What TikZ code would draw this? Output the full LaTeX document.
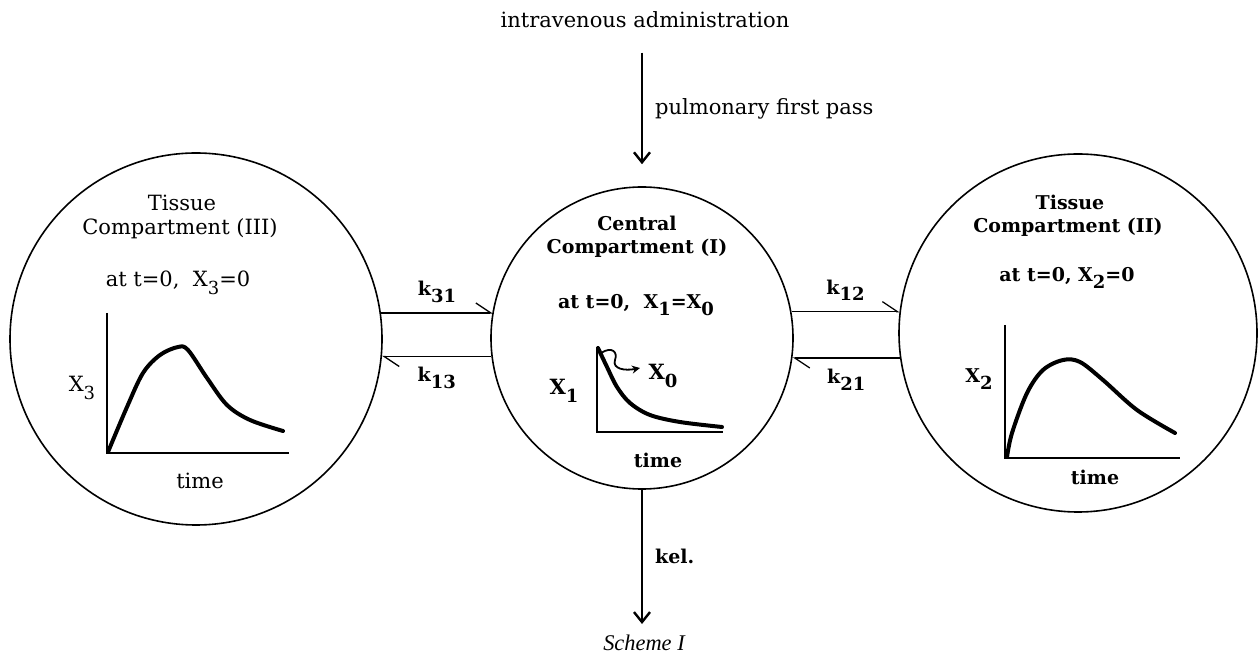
\documentclass[tikz,border=0pt]{standalone}
\usepackage{fontspec}
\setmainfont{DejaVu Serif}
\newfontfamily\capfont{Liberation Serif}
\usetikzlibrary{arrows.meta}
\newcommand{\lowsub}[1]{\raisebox{-0.7ex}{\fontsize{9}{9}\selectfont #1}}
\tikzset{
  comp/.style={circle, draw, line width=0.8pt, inner sep=0pt},
  txt/.style={font=\fontsize{10.5}{12}\selectfont, inner sep=1pt},
  btxt/.style={font=\fontsize{9.5}{11}\selectfont\bfseries, inner sep=1pt},
  axis/.style={line width=0.7pt},
  curve/.style={line width=2pt, line cap=round, line join=round},
  harp/.style={line width=0.65pt, -{Straight Barb[left,length=7.5pt,width=10pt]}},
  flow/.style={line width=1.2pt, -{Straight Barb[length=5pt,width=8pt]}}
}
\begin{document}
\begin{tikzpicture}[x=0.5pt,y=-0.5pt]
\useasboundingbox (0,0) rectangle (1259,657);
% compartments
\node[comp, minimum size=186pt] (L) at (196,339) {};
\node[comp, minimum size=151pt] (C) at (642,338) {};
\node[comp, minimum size=179pt] (R) at (1078,333) {};
% top / bottom
\node[txt] (iv) at (645,20) {intravenous administration};
\draw[flow, shorten <=11pt, shorten >=11pt] (iv.south -| C.north) -- node[right=5pt, txt] {pulmonary first pass} (C.north);
\coordinate (elim) at (642,624);
\draw[flow] (C.south) -- node[right=5pt, btxt, pos=0.5] {kel.} (elim);
\node[font=\capfont\itshape\fontsize{11.2}{13}\selectfont] (cap) at (644,643) {Scheme I};
% exchange connectors
\draw[harp] (L.8.66) -- node[above=4pt, btxt] {k\lowsub{31}} (C.169.7 |- L.8.66);
\draw[harp] (C.187.2) -- node[below=4pt, btxt] {k\lowsub{13}} (L.-5.55 |- C.187.2);
\draw[harp] (C.10.3) -- node[above=4pt, btxt] {k\lowsub{12}} (R.173 |- C.10.3);
\draw[harp] (R.188) -- node[below=4pt, btxt] {k\lowsub{21}} (C.-7.6 |- R.188);
% left compartment contents
\node[txt] (L1) at (182,203) {Tissue};
\node[txt] (L2) at (180,229) {Compartment (III)};
\node[txt] (L3) at (178,283) {at t=0,\ \ X\lowsub{3}=0};
\draw[axis] (107,313) -- (107,453) -- (289,453);
\draw[curve] plot[smooth, tension=0.55] coordinates {(108,452) (127,407) (143,373) (160,355) (178,347) (188,350) (207,378) (227,405) (250,420) (283,431)};
\node[txt] (LX) at (82,388) {X\lowsub{3}};
\node[txt] (LT) at (200,481) {time};
% central compartment contents
\node[btxt] (C1) at (637,223) {Central};
\node[btxt] (C2) at (637,248) {Compartment (I)};
\node[btxt] (C3) at (636,305) {at t=0,\ \ X\lowsub{1}=X\lowsub{0}};
\draw[axis] (597,347) -- (597,432) -- (723,432);
\draw[curve] plot[smooth, tension=0.55] coordinates {(598,348) (607,367) (617,387) (630,403) (650,415) (680,422) (722,427)};
\draw[line width=0.9pt, -{Stealth[length=4pt,width=4pt]}] (601,353) .. controls (612,346) and (618,352) .. (615,360) .. controls (612,369) and (625,371) .. (640,368);
\node[btxt, font=\fontsize{10.5}{12}\selectfont\bfseries] (CX0) at (663,376) {X\lowsub{0}};
\node[btxt, font=\fontsize{10.5}{12}\selectfont\bfseries] (CX) at (564,391) {X\lowsub{1}};
\node[btxt] (CT) at (658,460) {time};
% right compartment contents
\node[btxt] (R1) at (1070,202) {Tissue};
\node[btxt] (R2) at (1068,227) {Compartment (II)};
\node[btxt] (R3) at (1067,278) {at t=0,\ X\lowsub{2}=0};
\draw[axis] (1005,325) -- (1005,458) -- (1180,458);
\draw[curve] plot[smooth, tension=0.55] coordinates {(1007,457) (1012,433) (1027,393) (1043,370) (1063,360) (1080,362) (1103,380) (1137,410) (1175,433)};
\node[btxt] (RX) at (979,379) {X\lowsub{2}};
\node[btxt] (RT) at (1095,477) {time};
\end{tikzpicture}
\end{document}
